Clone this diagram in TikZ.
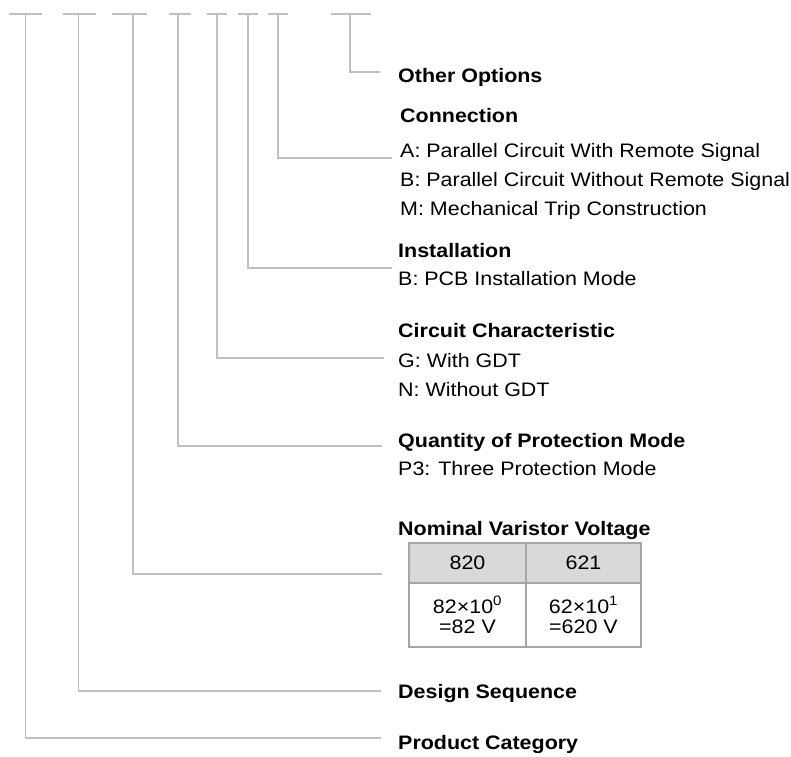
\documentclass[tikz,border=0pt]{standalone}
\usepackage{fontspec}
\setmainfont{Liberation Sans}[FakeStretch=1.1]
\definecolor{linegray}{HTML}{C0C0C0}
\definecolor{tabgray}{HTML}{A6A6A6}
\definecolor{headfill}{HTML}{D9D9D9}
\begin{document}
\begin{tikzpicture}[x=1pt,y=-1pt,
  conn/.style={draw=linegray, line width=1.4pt},
  head/.style={anchor=base west, inner sep=0pt, font=\fontsize{19.5}{23}\selectfont\bfseries},
  item/.style={anchor=base west, inner sep=0pt, font=\fontsize{19.5}{23}\selectfont},
  cell/.style={draw=tabgray, line width=1.5pt, inner sep=0pt, align=center, font=\fontsize{19.5}{20}\selectfont}]
\useasboundingbox (0,0) rectangle (791,756);
% top code positions
\foreach \n/\l/\r/\v in {1/9/42/25.5, 2/63/96/78.5, 3/112/147/133, 4/169/191/178, 5/207/227/217, 6/238/258/248, 7/268/288/278, 8/331/371/350}{
  \coordinate (t\n) at (\v,14);
  \draw[conn] (\l,14) -- (\r,14);
}
% line ends
\coordinate (e8) at (380,72);
\coordinate (e7) at (392,158);
\coordinate (e6) at (392,268);
\coordinate (e5) at (384,358);
\coordinate (e4) at (382,446);
\coordinate (e3) at (382,574);
\coordinate (e2) at (381,691);
\coordinate (e1) at (381,738);
\foreach \n in {1,...,8}{\draw[conn] (t\n) |- (e\n);}
% labels
\node[head] (oo) at (398,82) {Other Options};
\node[head] (cn) at (400,122) {Connection};
\node[item] (cna) at (400,157) {A: Parallel Circuit With Remote Signal};
\node[item] (cnb) at (400,186) {B: Parallel Circuit Without Remote Signal};
\node[item] (cnm) at (400,215) {M: Mechanical Trip Construction};
\node[head] (in) at (398,257) {Installation};
\node[item] (inb) at (398,285) {B: PCB Installation Mode};
\node[head] (cc) at (398,337) {Circuit Characteristic};
\node[item] (ccg) at (398,367) {G: With GDT};
\node[item] (ccn) at (398,396) {N: Without GDT};
\node[head] (qp) at (398,447) {Quantity of Protection Mode};
\node[item] (qpp) at (398,475) {P3: Three Protection Mode};
\node[head] (nv) at (398,535) {Nominal Varistor Voltage};
\node[head] (ds) at (398,698) {Design Sequence};
\node[head] (pc) at (398,749) {Product Category};
% table
\node[cell, fill=headfill, minimum width=117pt, minimum height=40pt] (h1) at (467.5,563) {820};
\node[cell, fill=headfill, minimum width=115pt, minimum height=40pt] (h2) at (583.5,563) {621};
\node[cell, minimum width=117pt, minimum height=64pt] (c1) at (467.5,615) {82×10\textsuperscript{0}\\=82 V};
\node[cell, minimum width=115pt, minimum height=64pt] (c2) at (583.5,615) {62×10\textsuperscript{1}\\=620 V};
\end{tikzpicture}
\end{document}
